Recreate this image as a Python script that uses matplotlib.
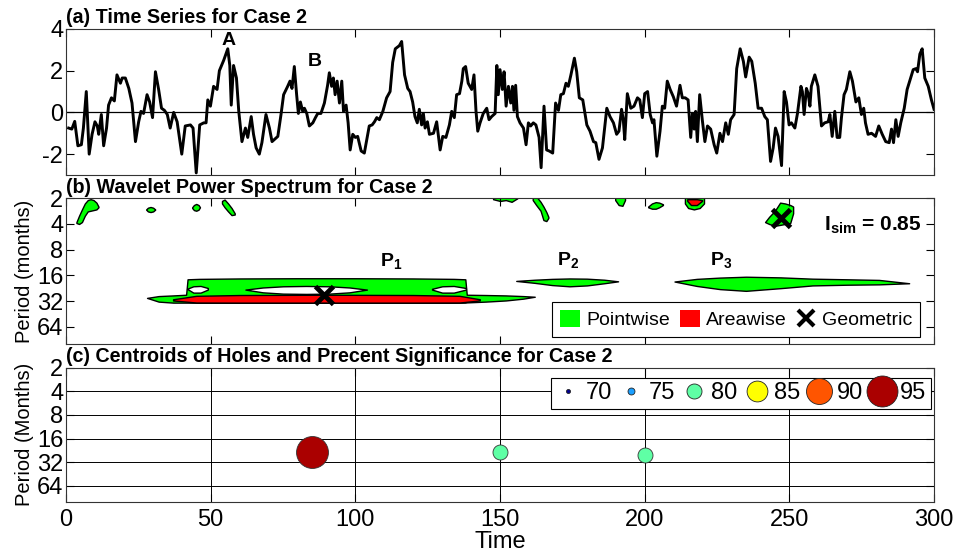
import numpy as np
import matplotlib.pyplot as plt
from matplotlib.lines import Line2D
from matplotlib.patches import Patch
from matplotlib.ticker import NullLocator

plt.rcParams['font.family'] = ['Liberation Sans', 'DejaVu Sans']
plt.rcParams['mathtext.fontset'] = 'custom'
plt.rcParams['mathtext.rm'] = 'Liberation Sans'
plt.rcParams['mathtext.bf'] = 'Liberation Sans:bold'
plt.rcParams['axes.unicode_minus'] = False

# ---- (a) time series ----
ts_t = [0.9, 2.0, 3.0, 4.1, 5.3, 6.0, 7.0, 8.0, 9.0, 10.0,
        10.8, 11.3, 12.2, 13.0, 14.0, 14.7, 15.7, 16.7, 17.6, 18.8,
        19.4, 20.5, 21.7, 22.8, 24.0, 25.1, 25.9, 26.8, 28.0, 28.9,
        29.9, 30.9, 32.0, 33.0, 34.0, 35.0, 36.0, 37.2, 38.4, 40.0,
        41.2, 43.0, 43.9, 45.0, 46.2, 47.6, 48.4, 49.0, 49.9, 51.0,
        52.2, 53.0, 54.5, 55.9, 56.6, 57.1, 57.9, 58.9, 59.7, 60.8,
        62.0, 62.8, 64.0, 64.8, 65.7, 66.8, 67.7, 69.1, 70.3, 71.2,
        73.2, 74.3, 75.2, 76.6, 77.4, 78.1, 78.9, 79.7, 80.3, 81.0,
        81.8, 82.4, 83.2, 84.1, 85.3, 86.2, 87.0, 88.1, 89.3, 90.4,
        91.0, 91.8, 92.4, 93.0, 93.7, 94.5, 95.3, 95.9, 96.8, 97.5,
        98.2, 99.1, 100.0, 100.8, 102.0, 103.1, 104.8, 105.8, 106.6, 107.4,
        108.3, 109.5, 110.8, 112.0, 112.9, 113.8, 115.2, 116.0, 117.0, 118.1,
        118.9, 119.8, 120.6, 121.4, 122.1, 122.9, 123.5, 124.1, 124.9, 125.6,
        127.0, 128.1, 129.3, 130.2, 131.3, 132.5, 133.3, 134.2, 135.0, 136.0,
        136.8, 137.3, 138.1, 139.0, 140.2, 141.0, 141.7, 142.3, 143.1, 144.2,
        145.4, 146.2, 147.1, 148.3, 148.9, 149.4, 150.0, 150.8, 151.4, 152.1,
        152.9, 153.7, 154.3, 154.8, 155.4, 156.0, 156.9, 158.1, 159.0, 159.8,
        160.6, 161.5, 162.4, 163.5, 164.2, 165.2, 166.1, 167.0, 168.2, 169.2,
        170.2, 171.0, 171.9, 172.8, 173.6, 174.5, 175.7, 176.5, 177.4, 178.6,
        180.0, 181.1, 182.3, 183.1, 184.2, 185.4, 186.9, 188.0, 189.2, 190.3,
        191.1, 192.0, 192.6, 193.1, 194.0, 195.2, 196.3, 197.5, 198.3, 199.2,
        200.0, 201.0, 201.9, 202.7, 203.2, 204.2, 205.3, 206.1, 206.9, 207.8,
        208.8, 209.9, 211.0, 212.2, 213.0, 214.0, 215.0, 215.9, 216.5, 217.1,
        217.6, 218.2, 219.0, 219.9, 220.8, 221.7, 222.8, 224.0, 224.9, 226.0,
        226.9, 228.0, 228.9, 229.7, 230.9, 231.8, 233.0, 234.1, 234.9, 236.1,
        237.0, 238.2, 239.2, 240.4, 241.5, 242.4, 243.5, 244.4, 245.2, 246.1,
        247.3, 248.2, 249.0, 249.9, 250.7, 251.9, 252.8, 254.0, 254.5, 255.1,
        255.9, 256.5, 257.1, 257.6, 258.8, 259.9, 261.1, 262.2, 263.4, 264.0,
        264.8, 265.7, 266.5, 267.4, 268.0, 268.9, 269.7, 270.9, 271.8, 273.0,
        274.0, 274.9, 275.7, 276.3, 277.2, 278.4, 279.8, 280.9, 282.1, 283.3,
        284.5, 285.3, 286.0, 286.8, 287.6, 288.5, 289.7, 290.7, 291.9, 292.8,
        293.7, 294.3, 295.1, 295.9, 296.8, 298.0, 299.1, 300.0]
ts_v = [-0.75, -0.8, -0.43, -1.6, -1.55, -0.75, 1.0, -2.0, -1.05, -0.45,
        -0.65, -1.05, -0.1, -1.6, -0.75, 0.35, 0.7, 0.55, 1.8, 1.4,
        1.65, 1.65, 1.15, 0.45, -1.4, -0.45, 0.05, -0.05, 0.85, 0.5,
        -0.25, 1.95, 1.1, 0.2, 0.1, -0.1, -0.75, 0.0, -0.45, -2.0,
        -0.65, -0.6, -0.75, -2.9, -0.6, -0.5, -0.5, 0.6, 0.3, 1.25,
        1.1, 2.0, 2.5, 3.05, 2.25, 0.35, 2.25, 1.65, 0.05, -1.4,
        -0.75, -1.2, -0.2, -1.05, -1.7, -2.0, -1.45, -0.1, -0.75, -1.4,
        -1.15, -0.1, 0.85, 1.25, 1.5, 1.15, 2.2, 0.85, -0.05, 0.5,
        0.05, 0.2, -0.05, -0.65, -0.5, -0.25, -0.05, -0.05, 0.45, 1.3,
        1.9, 1.25, 1.65, 0.85, 1.5, 0.45, 1.5, 0.05, 0.35, -0.5,
        -1.8, -1.05, -1.2, -1.15, -1.85, -1.95, -0.65, -0.6, -0.45, -0.25,
        -0.35, 0.05, 0.7, 1.0, 2.4, 3.05, 3.2, 3.4, 1.8, 1.15,
        1.0, 0.5, -0.2, -0.5, 0.15, -0.6, -0.05, -0.75, -0.45, -1.05,
        -1.0, -0.45, -1.8, -1.15, -1.2, -0.6, 0.05, -0.25, 0.85, 0.9,
        1.5, 2.1, 2.2, 1.4, 1.1, 1.8, 0.05, -0.9, -0.5, -0.05,
        0.2, -0.35, -0.2, -0.05, 2.25, 0.85, 2.05, 1.1, 1.95, 0.3,
        1.25, 0.45, 1.25, 0.1, 1.3, -0.2, -0.5, -0.75, -1.55, -0.5,
        -0.65, -0.5, -0.6, -1.2, -2.65, 0.3, -1.8, -1.85, -1.95, 0.45,
        0.1, 0.85, 0.9, 1.4, 1.25, 1.8, 2.6, 1.95, 0.7, 0.6,
        -0.6, -0.9, -1.4, -1.45, -2.25, -1.7, 0.2, -0.2, -0.5, -1.05,
        -0.9, 0.15, -0.35, -1.3, 0.9, 0.2, 0.3, 0.7, 0.6, -0.25,
        0.9, 1.0, -0.1, -0.5, -0.35, -2.1, -0.9, 0.3, 0.2, 1.5,
        1.1, 0.75, 0.3, 1.3, 0.7, 0.7, 0.6, -1.2, -0.05, -0.8,
        0.05, -1.4, 0.85, -0.35, -1.4, -0.65, -0.8, -1.55, -1.95, -1.0,
        -1.4, -0.5, -1.05, -0.35, -0.1, 2.1, 3.05, 2.45, 1.7, 2.65,
        2.45, 1.4, 0.2, 0.2, -0.2, -0.35, -2.35, -1.7, -0.75, -1.15,
        -2.55, 1.0, 0.5, -0.6, -0.5, -0.75, -0.05, 1.25, 1.0, -0.1,
        1.15, 0.9, 0.3, 1.25, 1.8, 1.25, -0.65, -0.5, -0.45, -0.1,
        -1.15, 0.05, -1.2, -1.2, -0.25, 0.85, 1.1, 1.95, 1.5, 0.5,
        0.7, -0.1, 0.2, -0.5, -1.05, -1.0, -1.15, -0.65, -1.05, -1.4,
        -1.45, -0.8, -1.45, -0.35, -1.15, -0.5, 0.2, 1.1, 1.65, 2.05,
        2.1, 1.95, 2.8, 3.05, 1.65, 1.25, 0.6, 0.15]

# ---- (b) significance regions: time, upper and lower period edge ----
p1_t = [28, 32, 37, 41.5, 42, 46, 60, 80, 100, 120, 134, 138, 138.5, 145, 152, 158, 162]
p1_top = [29.4, 28, 27.5, 27, 17.8, 17.6, 17.4, 17.3, 17.3, 17.4, 17.6, 17.8, 27, 27.2, 27.5, 28, 28.5]
p1_bot = [29.4, 32.5, 33.4, 33.4, 33.4, 33.5, 33.5, 33.5, 33.5, 33.5, 33.5, 33.4, 33.2, 32.5, 31.5, 30, 28.5]
hole_t = [62, 68, 75, 83, 91, 98, 104]
hole_top = [23.5, 22.2, 21.5, 21.3, 21.5, 22.2, 23.5]
hole_bot = [23.5, 25.3, 26.2, 26.4, 26.2, 25.3, 23.5]
notch_l_t = [41.8, 44, 46.5, 49]
notch_l_top = [23, 21.5, 21.3, 22.5]
notch_l_bot = [23, 25.5, 25.5, 23.5]
notch_r_t = [126.5, 130, 134, 138.2]
notch_r_top = [23, 21.5, 21.3, 22.5]
notch_r_bot = [23.5, 25.5, 25.5, 23.5]
red_t = [37, 45, 60, 89, 120, 136, 143]
red_top = [30.5, 27.8, 27.2, 27.0, 27.2, 27.8, 30.5]
red_bot = [31.5, 33.3, 33.4, 33.4, 33.4, 33.3, 31.5]
p2_t = [155.6, 162, 168, 174, 180, 186, 190.8]
p2_top = [18.6, 18.0, 17.6, 17.4, 17.5, 18.0, 18.8]
p2_bot = [18.6, 19.6, 20.8, 21.5, 21.0, 19.8, 18.8]
p3_t = [210.3, 218, 226, 235, 247, 258, 270, 281, 291.4]
p3_top = [18.9, 17.6, 17.0, 16.6, 16.9, 17.5, 17.8, 18.1, 19.8]
p3_bot = [18.9, 21.3, 23.2, 24.3, 22.6, 21.0, 20.6, 20.4, 19.8]
small_blobs = [
    ([3.6, 4.5, 5.5, 6.5, 7.5, 8.5, 9.5, 10.5, 11.2],
     [3.8, 3.2, 2.7, 2.3, 2.1, 2.05, 2.1, 2.25, 2.5],
     [3.9, 4.0, 3.8, 3.2, 2.85, 2.8, 2.75, 2.7, 2.55]),
    ([27.7, 28.3, 29.2, 30.1, 30.8], [2.7, 2.58, 2.53, 2.58, 2.7], [2.72, 2.85, 2.9, 2.85, 2.72]),
    ([43.6, 44.2, 45, 45.8, 46.3], [2.55, 2.4, 2.33, 2.4, 2.55], [2.6, 2.75, 2.8, 2.72, 2.55]),
    ([53.9, 54.8, 56, 57.2, 58.3], [2.15, 2.07, 2.3, 2.6, 3.0], [2.3, 2.55, 2.85, 3.15, 3.1]),
    ([147.6, 150, 152, 154, 156], [1.9, 1.9, 1.9, 1.9, 1.9], [2.05, 2.15, 2.1, 2.2, 2.0]),
    ([161.3, 162.5, 164, 165, 166, 166.7], [1.9, 1.9, 2.2, 2.5, 2.9, 3.3], [2.1, 2.4, 2.8, 3.6, 3.7, 3.4]),
    ([189.8, 191, 192.3, 193.2], [1.9, 1.9, 1.9, 1.9], [2.1, 2.4, 2.45, 2.1]),
    ([201.2, 202.5, 203.8, 205, 206.3], [2.5, 2.3, 2.22, 2.25, 2.35], [2.55, 2.65, 2.65, 2.55, 2.4]),
    ([213.9, 215, 217, 219, 220.5], [1.9, 1.9, 1.9, 1.9, 1.9], [2.3, 2.6, 2.7, 2.6, 2.3]),
    ([241.6, 243, 245, 246.8, 248.5, 250.3, 251.3],
     [3.8, 3.3, 2.8, 2.25, 2.3, 2.4, 2.5], [3.8, 4.0, 4.2, 4.1, 4.0, 3.9, 3.0]),
]
red_small_t = [214.7, 216, 218, 219.8]
red_small_top = [2.05, 2.05, 2.05, 2.1]
red_small_bot = [2.15, 2.4, 2.4, 2.15]
geo_t = [89, 247]
geo_p = [27, 3.4]

# ---- (c) hole centroids ----
cent_t = [85, 150, 200]
cent_p = [24, 24, 26]
cent_sig = [95, 80, 80]
sig_levels = [70, 75, 80, 85, 90, 95]
sig_colors = ['#000090', '#1a9fff', '#5fffa5', '#ffff00', '#ff5500', '#aa0000']
sig_diam = [2.9, 5.0, 10.8, 15.0, 18.7, 22.3]

periods = [2, 4, 8, 16, 32, 64]
xticks = [0, 50, 100, 150, 200, 250, 300]

fig = plt.figure(figsize=(9.57, 5.52), dpi=100)
ax1 = fig.add_axes([0.069, 0.683, 0.907, 0.2645])
ax2 = fig.add_axes([0.069, 0.3768, 0.907, 0.264])
ax3 = fig.add_axes([0.069, 0.0911, 0.907, 0.2428])


def style(ax):
    ax.set_xlim(0, 300)
    ax.set_xticks(xticks)
    ax.tick_params(direction='in', length=6, width=0.8, top=True, right=True, labelsize=17)
    ax.tick_params(axis='x', pad=5)
    ax.tick_params(axis='y', pad=2)
    for s in ax.spines.values():
        s.set_linewidth(0.8)
        s.set_color('#333333')


def period_axis(ax):
    ax.set_yscale('log', base=2)
    ax.set_ylim(102, 2)
    ax.set_yticks(periods)
    ax.set_yticklabels([str(p) for p in periods])
    ax.yaxis.set_minor_locator(NullLocator())


# (a)
style(ax1)
ax1.plot(ts_t, ts_v, color='k', lw=2.1)
ax1.axhline(0, color='k', lw=0.9)
ax1.set_ylim(-3, 4)
ax1.set_yticks([-2, 0, 2, 4])
ax1.tick_params(labelbottom=False)
ax1.set_title('(a) Time Series for Case 2', loc='left', fontsize=14.2, fontweight='bold', pad=4)
ax1.text(56.3, 3.45, 'A', fontsize=14, fontweight='bold', ha='center', va='center')
ax1.text(86, 2.43, 'B', fontsize=14, fontweight='bold', ha='center', va='center')

# (b)
style(ax2)
period_axis(ax2)
ax2.tick_params(labelbottom=False)
green = '#00ff00'
for t, top, bot in small_blobs:
    ax2.fill_between(t, top, bot, facecolor=green, edgecolor='k', lw=1)
ax2.fill_between(red_small_t, red_small_top, red_small_bot, facecolor='#ff0000', edgecolor='k', lw=1)
ax2.fill_between(p1_t, p1_top, p1_bot, facecolor=green, edgecolor='k', lw=1)
ax2.fill_between(hole_t, hole_top, hole_bot, facecolor='white', edgecolor='k', lw=1)
ax2.fill_between(notch_l_t, notch_l_top, notch_l_bot, facecolor='white', edgecolor='k', lw=1)
ax2.fill_between(notch_r_t, notch_r_top, notch_r_bot, facecolor='white', edgecolor='k', lw=1)
ax2.fill_between(red_t, red_top, red_bot, facecolor='#ff0000', edgecolor='k', lw=1)
ax2.fill_between(p2_t, p2_top, p2_bot, facecolor=green, edgecolor='k', lw=1)
ax2.fill_between(p3_t, p3_top, p3_bot, facecolor=green, edgecolor='k', lw=1)
ax2.plot(geo_t, geo_p, 'x', color='k', ms=13, mew=3.5)
ax2.text(108.5, 12.8, r'$\mathbf{P}_{\mathbf{1}}$', fontsize=14, ha='left', va='baseline')
ax2.text(169.8, 12.4, r'$\mathbf{P}_{\mathbf{2}}$', fontsize=14, ha='left', va='baseline')
ax2.text(222.4, 12.4, r'$\mathbf{P}_{\mathbf{3}}$', fontsize=14, ha='left', va='baseline')
ax2.text(262.1, 4.7, r'$\mathbf{I}_{\mathbf{sim}}$ = 0.85', fontsize=15, fontweight='bold',
         ha='left', va='baseline')
ax2.set_ylabel('Period (months)', fontsize=14.5, labelpad=2)
ax2.set_title('(b) Wavelet Power Spectrum for Case 2', loc='left', fontsize=14.2, fontweight='bold', pad=4)
hb = [Patch(facecolor=green, edgecolor='none'),
      Patch(facecolor='#ff0000', edgecolor='none'),
      Line2D([], [], marker='x', ls='none', color='k', ms=12, mew=3)]
leg = ax2.legend(hb, ['Pointwise', 'Areawise', 'Geometric'], ncol=3, fontsize=14,
                 loc='lower right', bbox_to_anchor=(0.984, 0.048), borderaxespad=0,
                 handlelength=1.03, handleheight=1.0, handletextpad=0.31, columnspacing=0.5,
                 borderpad=0.4, fancybox=False, framealpha=1, edgecolor='k')
leg.get_frame().set_linewidth(0.8)

# (c)
style(ax3)
period_axis(ax3)
ax3.grid(True, color='k', lw=0.7)
ax3.set_axisbelow(True)
for t, p, s in zip(cent_t, cent_p, cent_sig):
    i = sig_levels.index(s)
    ax3.plot(t, p, 'o', ms=sig_diam[i] * (1.03 if s == 95 else 1.0), mfc=sig_colors[i],
             mec='#333333', mew=0.6, zorder=3)
ax3.set_xlabel('Time', fontsize=17, labelpad=0)
ax3.set_ylabel('Period (Months)', fontsize=14.5, labelpad=2)
ax3.set_title('(c) Centroids of Holes and Precent Significance for Case 2', loc='left',
              fontsize=14.2, fontweight='bold', pad=4)
hc = [Line2D([], [], marker='o', ls='none', ms=d, mfc=c, mec='#222222', mew=0.6)
      for d, c in zip(sig_diam, sig_colors)]
leg = ax3.legend(hc, [str(s) for s in sig_levels], ncol=6, fontsize=17,
                 loc='upper right', bbox_to_anchor=(0.9965, 0.925), borderaxespad=0,
                 handlelength=1.0, handletextpad=0.25, columnspacing=0.3, borderpad=0.2,
                 fancybox=False, framealpha=1, edgecolor='k')
leg.get_frame().set_linewidth(0.8)

fig.savefig('out.png', dpi=100)
